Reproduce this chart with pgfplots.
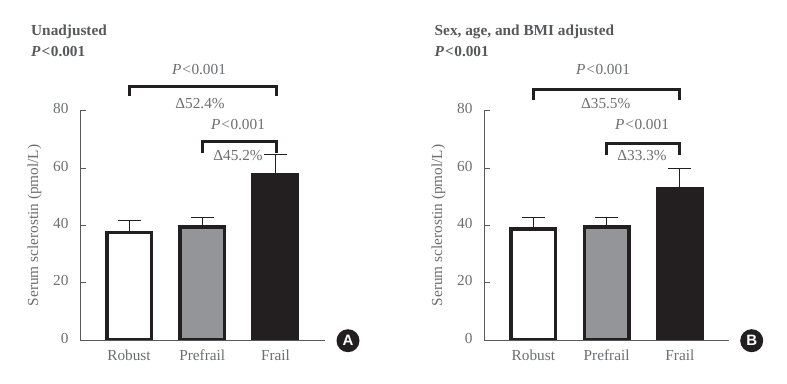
\documentclass[border=0pt]{standalone}
\usepackage{pgfplots}
\pgfplotsset{compat=1.18}
\usepackage{fontspec}
\setmainfont{Liberation Serif}
\newfontfamily\lsans{Liberation Sans}
\definecolor{txt}{HTML}{6D6E71}
\definecolor{titletxt}{HTML}{58595B}
\definecolor{axln}{HTML}{58595B}
\definecolor{barblack}{HTML}{231F20}
\definecolor{bargray}{HTML}{939598}
\newcommand{\myf}{\fontsize{15.3}{18}\selectfont}
\newcommand{\pval}{\textit{P}\kern1pt<\kern0.5pt0.001}
\pgfplotsset{
  panel/.style={
    scale only axis, width=245pt, height=229.3pt,
    axis lines=left, axis line style={-, axln, line width=0.8pt},
    ymin=0, ymax=80, ytick={0,20,40,60,80},
    xtick={0,1,2}, xticklabels={Robust,Prefrail,Frail},
    x tick style={draw=none}, y tick style={axln, line width=0.8pt},
    tick align=inside, major tick length=6pt,
    clip=false,
    /pgf/number format/assume math mode=true,
    tick label style={font=\myf, text=txt},
    xticklabel style={yshift=-6pt},
    yticklabel style={xshift=-8pt,yshift=2pt},
    ylabel={Serum sclerostin (pmol/L)},
    ylabel style={font=\myf, text=txt},
    ylabel shift=5pt,
  },
  pbar/.style={ybar, bar shift=0pt, bar width=44.5pt, draw=barblack, line width=3.5pt,
    error bars/y dir=plus, error bars/y explicit,
    error bars/error bar style={barblack, line width=0.9pt},
    error bars/error mark options={rotate=90, mark size=11.5pt, barblack, line width=0.9pt}},
  brk/.style={no marks, barblack, line width=3pt, line join=miter, line cap=butt, sharp plot, forget plot},
}
\begin{document}
\begin{tikzpicture}[x=1pt,y=1pt]
\useasboundingbox (0,0) rectangle (787,383);
% Panel A
\begin{axis}[panel, at={(80pt,43pt)}, anchor=south west, xmin=-0.669, xmax=2.676]
\addplot[pbar, fill=white] coordinates {(0,37.5) +- (0,4.3)};
\addplot[pbar, fill=bargray] coordinates {(1,39.5) +- (0,3.3)};
\addplot[pbar, fill=barblack] coordinates {(2,57.5) +- (0,7.2)};
\addplot[brk] coordinates {(0,85.1) (0,88.6) (2.01,88.6) (2.01,85.1)};
\addplot[brk] coordinates {(1.0,65.2) (1.0,69.4) (2.02,69.4) (2.02,65.2)};
\end{axis}
% Panel B
\begin{axis}[panel, at={(484pt,43pt)}, anchor=south west, xmin=-0.673, xmax=2.67]
\addplot[pbar, fill=white] coordinates {(0,38.8) +- (0,4.0)};
\addplot[pbar, fill=bargray] coordinates {(1,39.5) +- (0,3.2)};
\addplot[pbar, fill=barblack] coordinates {(2,52.9) +- (0,6.8)};
\addplot[brk] coordinates {(0,83.7) (0,87.5) (2.0,87.5) (2.0,83.7)};
\addplot[brk] coordinates {(1.0,64.5) (1.0,68.7) (2.0,68.7) (2.0,64.5)};
\end{axis}
% keep the bars' feet flush with the axis line, then restore the line
\fill[white] (95,40.5) rectangle (310,42.8);
\fill[white] (499,40.5) rectangle (714,42.8);
\draw[axln,line width=0.8pt] (80,43) -- (325,43);
\draw[axln,line width=0.8pt] (484,43) -- (729,43);
% Titles
\node[anchor=west,inner sep=0pt,font=\myf\bfseries,text=titletxt] at (31,351) {Unadjusted};
\node[anchor=west,inner sep=0pt,font=\myf\bfseries,text=titletxt] at (31,331) {\textit{P}\kern1pt<\kern0.5pt0.001};
\node[anchor=west,inner sep=0pt,font=\myf\bfseries,text=titletxt] at (434.5,351) {Sex, age, and BMI adjusted};
\node[anchor=west,inner sep=0pt,font=\myf\bfseries,text=titletxt] at (434.5,331) {\textit{P}\kern1pt<\kern0.5pt0.001};
% Annotations
\node[font=\myf,text=txt] at (199,313.5) {\pval};
\node[font=\myf,text=txt] at (200,279) {Δ52.4\%};
\node[font=\myf,text=txt] at (238,258) {\pval};
\node[font=\myf,text=txt] at (238,227) {Δ45.2\%};
\node[font=\myf,text=txt] at (603,313.5) {\pval};
\node[font=\myf,text=txt] at (605.7,279) {Δ35.5\%};
\node[font=\myf,text=txt] at (642,258) {\pval};
\node[font=\myf,text=txt] at (642,227) {Δ33.3\%};
% Panel letters
\fill[barblack] (348,42.3) circle (11.5);
\node[font=\lsans\fontsize{15}{18}\selectfont\bfseries,text=white] at (348,42.3) {A};
\fill[barblack] (751.7,42.3) circle (11.5);
\node[font=\lsans\fontsize{15}{18}\selectfont\bfseries,text=white] at (751.7,42.3) {B};
\end{tikzpicture}
\end{document}
